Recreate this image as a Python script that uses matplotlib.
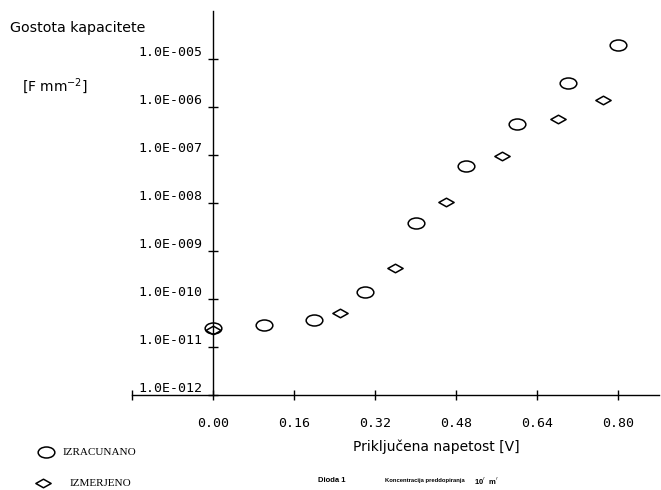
import numpy as np
import matplotlib
matplotlib.use("Agg")
import matplotlib.pyplot as plt
from matplotlib.path import Path

# izracunano (circles) and izmerjeno (diamonds)
x_calc = [0.00, 0.10, 0.20, 0.30, 0.40, 0.50, 0.60, 0.70, 0.80]
c_calc = [2.5e-11, 2.9e-11, 3.6e-11, 1.4e-10, 3.8e-9, 5.9e-8, 4.5e-7, 3.2e-6, 2.0e-5]
x_meas = [0.00, 0.25, 0.36, 0.46, 0.57, 0.68, 0.77]
c_meas = [2.3e-11, 5.1e-11, 4.5e-10, 1.05e-8, 9.5e-8, 5.6e-7, 1.4e-6]

xticks = [-0.16, 0.00, 0.16, 0.32, 0.48, 0.64, 0.80]
yticks = [1e-12, 1e-11, 1e-10, 1e-9, 1e-8, 1e-7, 1e-6, 1e-5]
ylabels = ["1.0E-012", "1.0E-011", "1.0E-010", "1.0E-009",
           "1.0E-008", "1.0E-007", "1.0E-006", "1.0E-005"]

# flat marker shapes like the plotter ones
circ = Path.unit_circle()
ellipse = Path(circ.vertices * [1.0, 0.66], circ.codes)
diamond = Path([(-1, 0), (0, 0.56), (1, 0), (0, -0.56), (-1, 0)],
               [Path.MOVETO, Path.LINETO, Path.LINETO, Path.LINETO, Path.CLOSEPOLY])

fig = plt.figure(figsize=(6.61, 4.90), dpi=100)
ax = fig.add_axes([0.1997, 0.1939, 0.797, 0.7837])

ax.plot(x_calc, c_calc, linestyle="none", marker=ellipse, markersize=12,
        markerfacecolor="none", markeredgecolor="black", markeredgewidth=1.1)
ax.plot(x_meas, c_meas, linestyle="none", marker=diamond, markersize=11,
        markerfacecolor="none", markeredgecolor="black", markeredgewidth=1.1)

ax.set_yscale("log")
ax.set_xlim(-0.16, 0.88)
ax.set_ylim(1e-12, 1e-4)

ax.spines["left"].set_position(("data", 0))
ax.spines["top"].set_visible(False)
ax.spines["right"].set_visible(False)
for s in ("left", "bottom"):
    ax.spines[s].set_linewidth(1.0)

ax.set_xticks(xticks)
ax.set_xticklabels([""] + ["%.2f" % v for v in xticks[1:]])
ax.set_yticks(yticks)
ax.set_yticklabels(ylabels)
ax.yaxis.set_minor_locator(matplotlib.ticker.NullLocator())
ax.tick_params(axis="both", direction="inout", length=7, width=1.0,
               labelsize=9.5)
ax.tick_params(axis="x", pad=12)
ax.tick_params(axis="y", pad=4)
for lbl in ax.get_xticklabels() + ax.get_yticklabels():
    lbl.set_family("DejaVu Sans Mono")
for lbl in ax.get_yticklabels():
    lbl.set_verticalalignment("bottom")

fig.text(10 / 661, 1 - 28 / 490, "Gostota kapacitete", fontsize=10.3,
         va="center", ha="left")
fig.text(22 / 661, 1 - 86 / 490, "[F mm$^{-2}$]", fontsize=10,
         va="center", ha="left")
fig.text(436 / 661, 1 - 447 / 490, "Priključena napetost [V]", fontsize=10,
         va="center", ha="center")

# legend drawn by hand like the original plotter output
fig.lines.append(plt.Line2D([46 / 661], [1 - 452 / 490], transform=fig.transFigure,
                            marker=ellipse, markersize=12, markerfacecolor="none",
                            markeredgecolor="black", markeredgewidth=1.1))
fig.lines.append(plt.Line2D([43 / 661], [1 - 483 / 490], transform=fig.transFigure,
                            marker=diamond, markersize=11, markerfacecolor="none",
                            markeredgecolor="black", markeredgewidth=1.1))
fig.text(63 / 661, 1 - 452 / 490, "IZRACUNANO", family="Liberation Serif",
         fontsize=8, va="center", ha="left")
fig.text(70 / 661, 1 - 483 / 490, "IZMERJENO", family="Liberation Serif",
         fontsize=8, va="center", ha="left")

fig.text(318 / 661, 1 - 480 / 490, "Dioda 1", family="Liberation Sans",
         fontsize=5.5, fontweight="bold", va="center", ha="left")
fig.text(385 / 661, 1 - 480 / 490, "Koncentracija preddopiranja",
         family="Liberation Sans", fontsize=4.2, fontweight="bold",
         va="center", ha="left")
fig.text(474 / 661, 1 - 480 / 490, r"10$^{\prime}$  m$^{\prime}$",
         family="Liberation Sans", fontsize=5.5, fontweight="bold",
         va="center", ha="left")

plt.savefig("out.png", dpi=100)
